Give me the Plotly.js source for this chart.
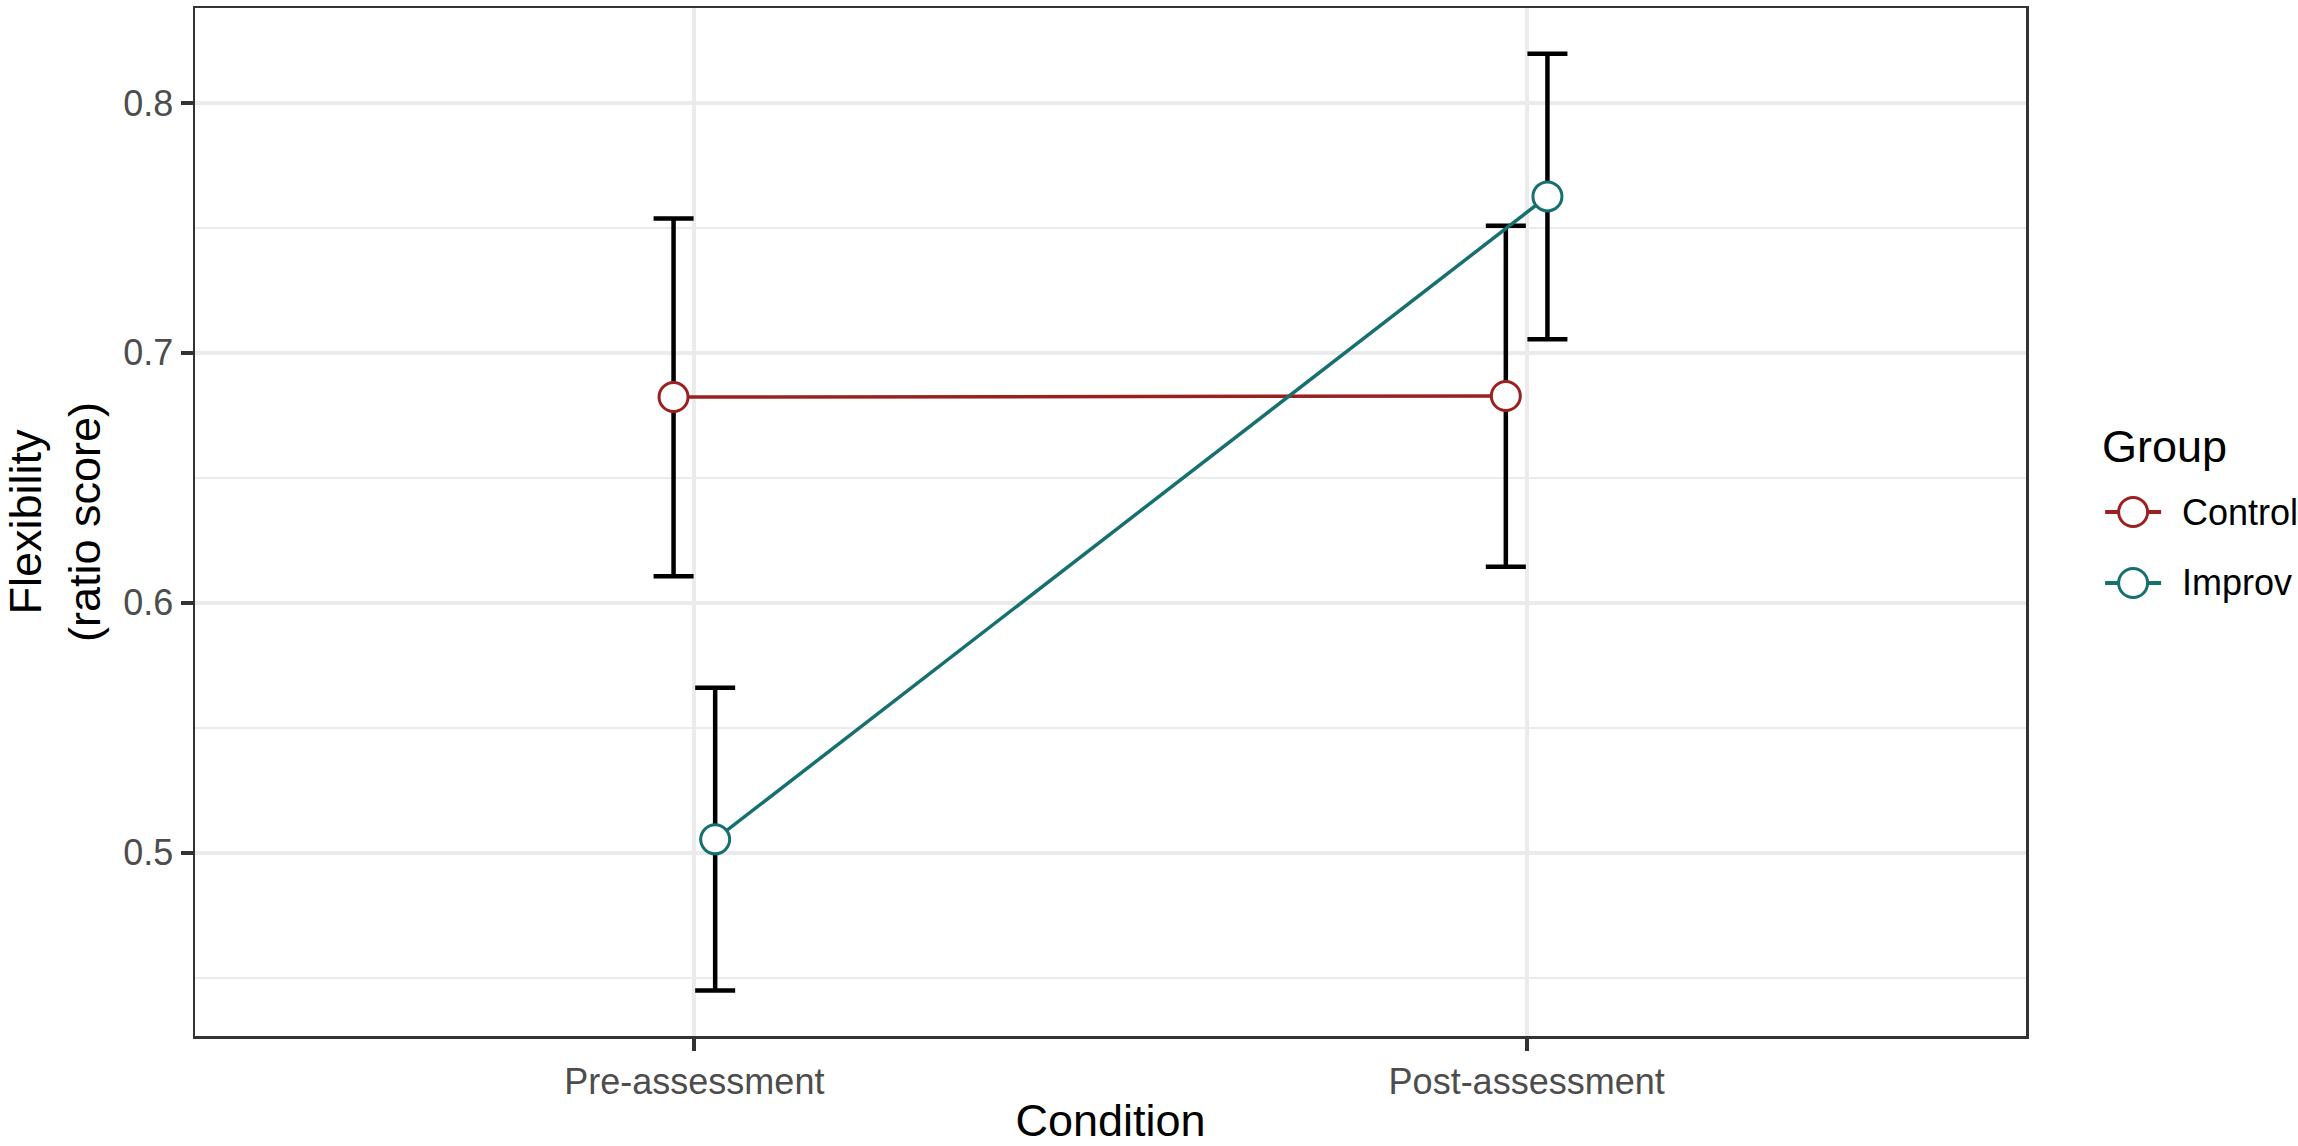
<!DOCTYPE html>
<html>
<head>
<meta charset="utf-8">
<script src="https://cdn.plot.ly/plotly-3.0.1.min.js"></script>
<style>
  html, body { margin: 0; padding: 0; background: #fff; }
  #plot { width: 2298px; height: 1146px; }
</style>
</head>
<body>
<div id="plot"></div>
<script>
// values
const conditions = ['Pre-assessment', 'Post-assessment'];
const groups = ['Control', 'Improv'];
const groupColors = ['#9b2121', '#16706f'];

const controlMean = [0.6823, 0.6827];
const controlLower = [0.6106, 0.6144];
const controlUpper = [0.7538, 0.7509];

const improvMean = [0.5053, 0.7626];
const improvLower = [0.4448, 0.7054];
const improvUpper = [0.5660, 0.8197];

const dodge = 0.025;
const font = 'Liberation Sans, Arial, Helvetica, sans-serif';

const series = [
  {mean: controlMean, lower: controlLower, upper: controlUpper},
  {mean: improvMean, lower: improvLower, upper: improvUpper}
];

// positions of each group along the discrete axis, dodged left / right
function xPositions(g) {
  const shift = g === 0 ? -dodge : dodge;
  return conditions.map((c, i) => i + 1 + shift);
}

const errTraces = series.map((s, g) => ({
  x: xPositions(g),
  y: s.mean,
  type: 'scatter',
  mode: 'markers',
  marker: {size: 1, color: 'rgba(0,0,0,0)'},
  error_y: {
    type: 'data',
    symmetric: false,
    array: s.upper.map((u, i) => u - s.mean[i]),
    arrayminus: s.mean.map((m, i) => m - s.lower[i]),
    color: '#000000',
    thickness: 4.5,
    width: 20
  },
  showlegend: false,
  hoverinfo: 'skip'
}));

const lineTraces = series.map((s, g) => ({
  x: xPositions(g),
  y: s.mean,
  name: groups[g],
  type: 'scatter',
  mode: 'lines+markers',
  line: {color: groupColors[g], width: 3.5},
  marker: {
    size: 29,
    color: '#ffffff',
    line: {color: groupColors[g], width: 3}
  },
  showlegend: false
}));

// hand-made legend, ggplot style: big keys the built-in legend cannot draw
const legendX = 1.0404;
const keyX = 1.0585;
const labelX = 1.0841;
const titleY = 0.573;
const rowY = [0.5097, 0.4407];

const legendShapes = [];
const legendNotes = [{
  text: 'Group', xref: 'paper', yref: 'paper', x: legendX, y: titleY,
  xanchor: 'left', yanchor: 'middle', showarrow: false,
  font: {size: 45, color: '#000000', family: font}
}];
groups.forEach((name, g) => {
  legendShapes.push({
    type: 'line', xref: 'paper', yref: 'paper',
    xsizemode: 'pixel', xanchor: keyX, x0: -28, x1: 28,
    y0: rowY[g], y1: rowY[g],
    line: {color: groupColors[g], width: 4}
  });
  legendShapes.push({
    type: 'circle', xref: 'paper', yref: 'paper',
    xsizemode: 'pixel', xanchor: keyX, x0: -14.5, x1: 14.5,
    ysizemode: 'pixel', yanchor: rowY[g], y0: -14.5, y1: 14.5,
    fillcolor: '#ffffff',
    line: {color: groupColors[g], width: 3}
  });
  legendNotes.push({
    text: name, xref: 'paper', yref: 'paper', x: labelX, y: rowY[g],
    xanchor: 'left', yanchor: 'middle', showarrow: false,
    font: {size: 36, color: '#000000', family: font}
  });
});

const layout = {
  width: 2298,
  height: 1146,
  margin: {l: 195, r: 272, t: 8, b: 110},
  paper_bgcolor: '#ffffff',
  plot_bgcolor: '#ffffff',
  font: {family: font, color: '#000000'},
  showlegend: false,
  xaxis: {
    range: [0.4, 2.6],
    tickmode: 'array',
    tickvals: [1, 2],
    ticktext: conditions,
    ticks: 'outside',
    ticklen: 12,
    tickwidth: 4,
    tickcolor: '#333333',
    tickfont: {size: 36, color: '#4d4d4d', family: font},
    showgrid: true,
    gridcolor: '#ebebeb',
    gridwidth: 4,
    zeroline: false,
    showline: true,
    mirror: true,
    linecolor: '#333333',
    linewidth: 2.5,
    title: {text: 'Condition', font: {size: 45, color: '#000000', family: font}, standoff: 12}
  },
  yaxis: {
    range: [0.4266, 0.838],
    tickmode: 'linear',
    tick0: 0,
    dtick: 0.1,
    tickformat: '.1f',
    ticks: 'outside',
    ticklen: 12,
    tickwidth: 4,
    tickcolor: '#333333',
    tickfont: {size: 36, color: '#4d4d4d', family: font},
    showgrid: true,
    gridcolor: '#ebebeb',
    gridwidth: 4,
    minor: {dtick: 0.05, tick0: 0, showgrid: true, gridcolor: '#ebebeb', gridwidth: 2, ticks: ''},
    zeroline: false,
    showline: true,
    mirror: true,
    linecolor: '#333333',
    linewidth: 2.5,
    title: {text: 'Flexibility<br>(ratio score)', font: {size: 45, color: '#000000', family: font}, standoff: 20}
  },
  shapes: legendShapes,
  annotations: legendNotes
};

Plotly.newPlot('plot', errTraces.concat(lineTraces), layout, {staticPlot: true});
</script>
</body>
</html>
